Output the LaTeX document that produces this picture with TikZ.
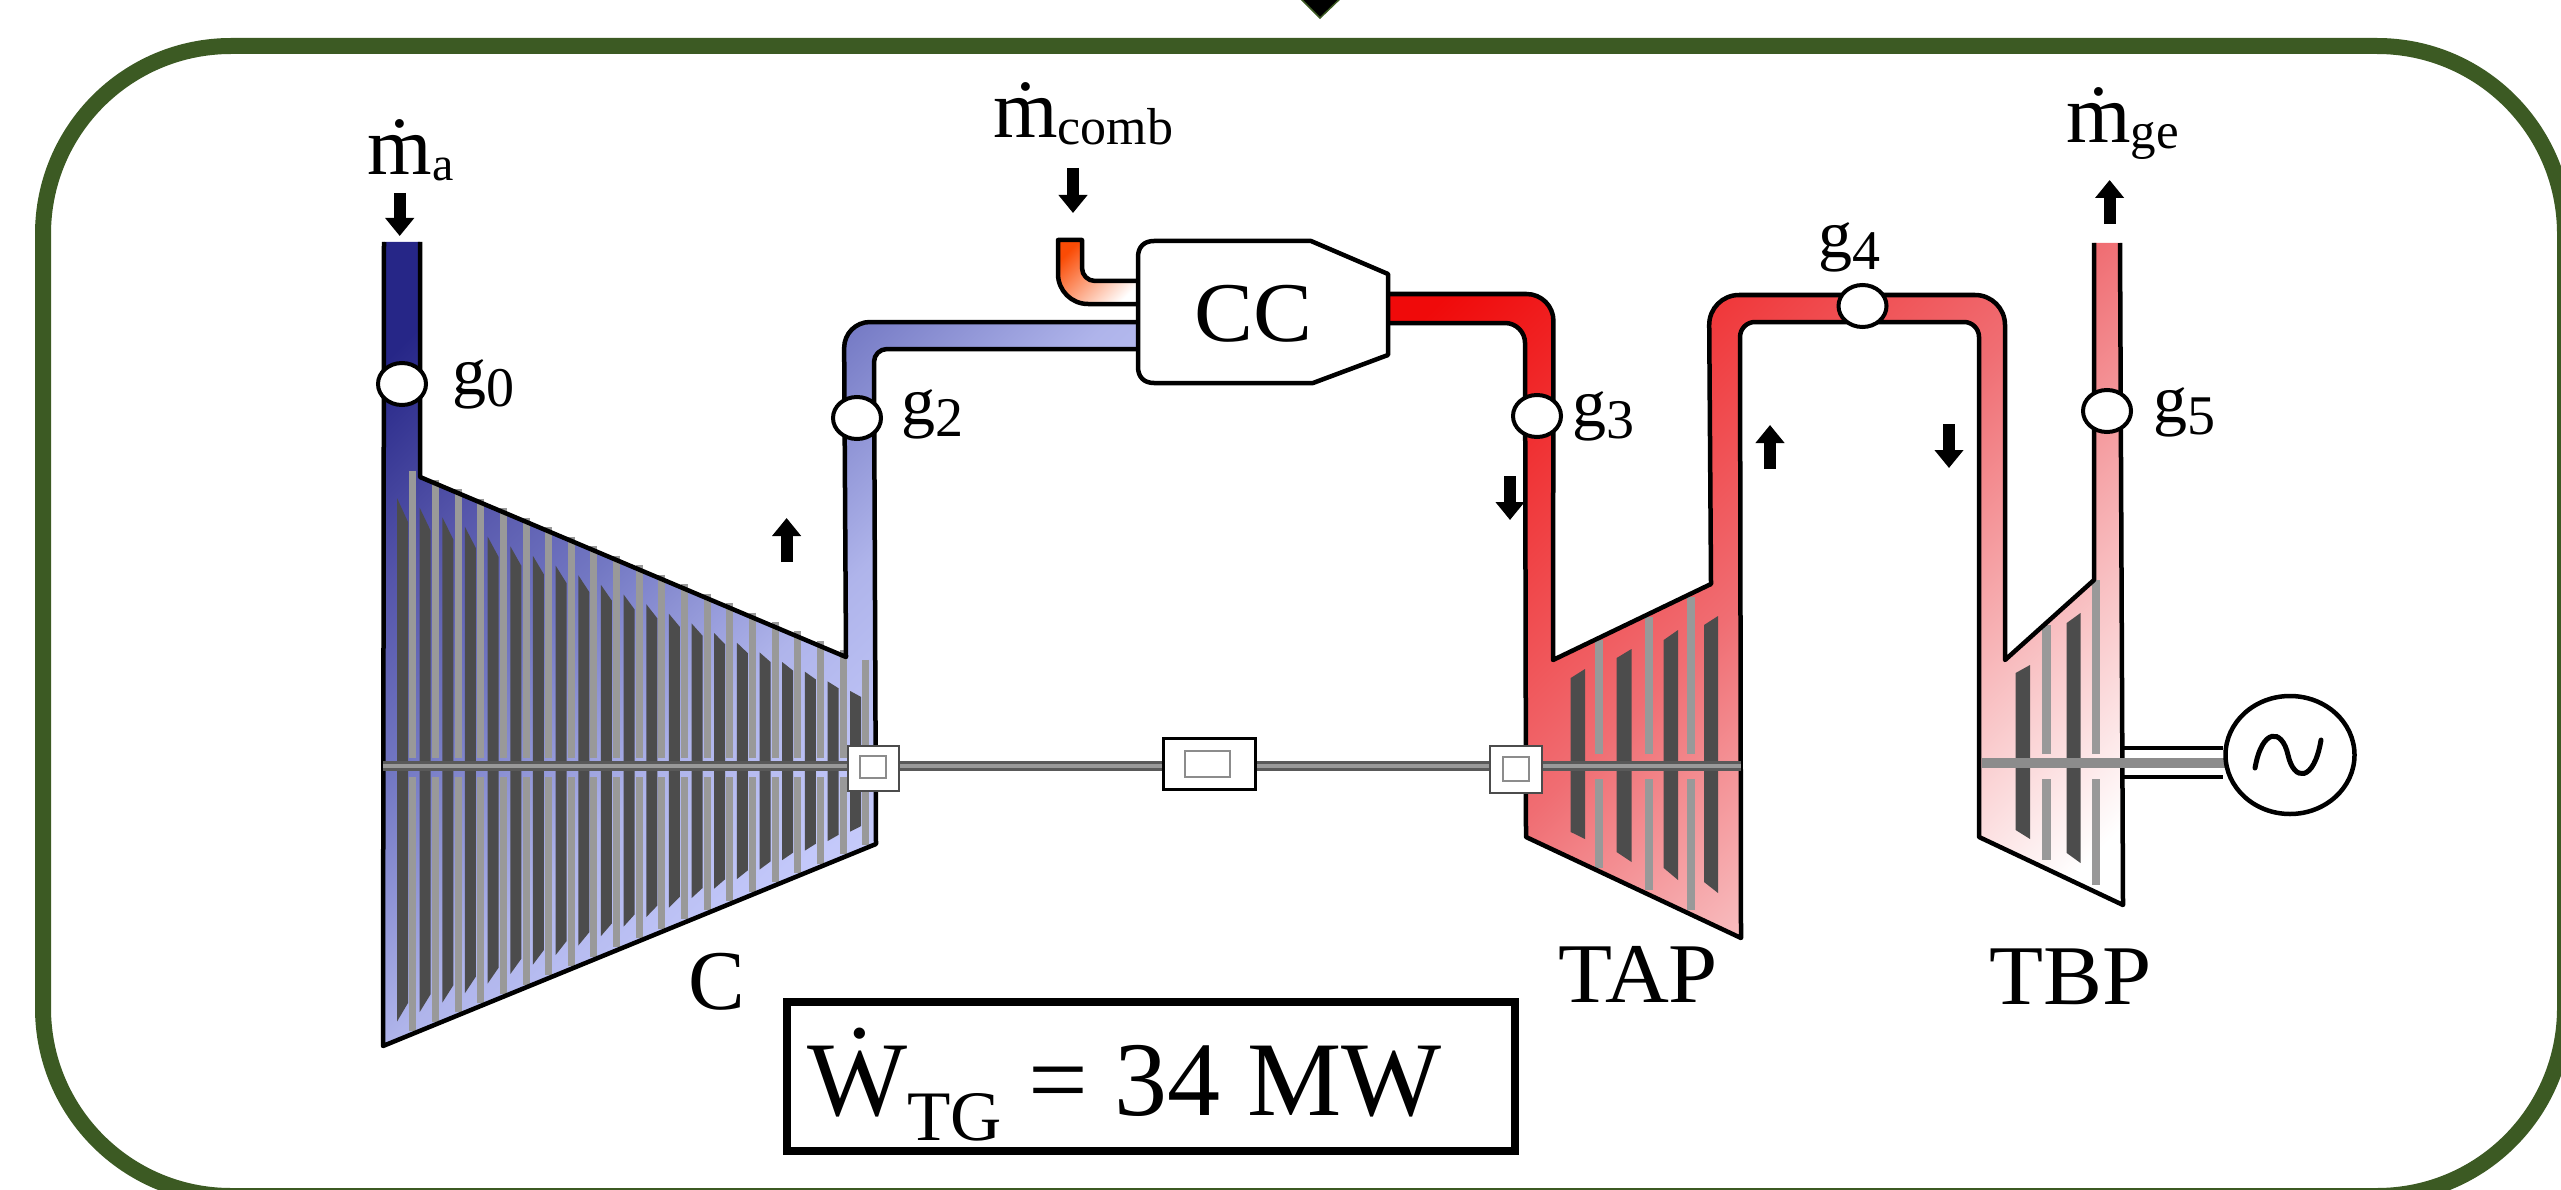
\documentclass[tikz,border=0pt]{standalone}
\usepackage{fontspec}
\setmainfont{Liberation Serif}
\usetikzlibrary{arrows.meta,shapes.geometric}
\definecolor{framegreen}{RGB}{60,90,35}
\definecolor{fuelA}{RGB}{250,75,5}
\pgfdeclareverticalshading{coldshade}{100bp}{
  rgb(0bp)=(0.84,0.86,1);rgb(20bp)=(0.84,0.86,1);rgb(38bp)=(0.765,0.785,0.98);
  rgb(48.8bp)=(0.686,0.706,0.92);rgb(60.8bp)=(0.45,0.47,0.765);rgb(69.8bp)=(0.333,0.333,0.667);
  rgb(80bp)=(0.15,0.15,0.53);rgb(100bp)=(0.15,0.15,0.53)}
\pgfdeclareverticalshading{hotshade}{100bp}{
  rgb(0bp)=(1,1,1);rgb(20bp)=(1,1,1);rgb(50bp)=(0.94,0.43,0.45);
  rgb(80bp)=(0.94,0.04,0.04);rgb(100bp)=(0.94,0.04,0.04)}
\newcommand{\lowtxt}[3]{\raisebox{-#1pt}{\fontsize{#2pt}{#2pt}\selectfont #3}}
\newcommand{\widetxt}[1]{\scalebox{1.04}[1]{#1}}
\tikzset{
  coldfill/.style={shade,shading=coldshade,shading angle=45},
  hotfill/.style={shade,shading=hotshade,shading angle=45},
  fuelfill/.style={shade,top color=fuelA,bottom color=white,shading angle=45},
  pipeline/.style={draw=black,line width=4.5pt,line join=round},
  lightblade/.style={draw=black!40,line width=7pt},
  darkblade/.style={fill=black!70},
  shaftline/.style={draw=black!65,double=black!40,line width=3pt,double distance=3.5pt},
  coupling/.style={rectangle,draw=black!70,fill=white,line width=2.5pt,inner sep=0pt},
  couplingin/.style={rectangle,draw=black!45,fill=white,line width=2.5pt,inner sep=0pt},
  gauge/.style={ellipse,draw=black,fill=white,line width=4pt,inner sep=0pt,minimum width=48pt,minimum height=42pt},
  flowarrow/.style={draw=black,line width=12pt,-{Triangle[length=18pt,width=28pt]}},
  flowlbl/.style={anchor=base west,inner sep=0pt,font=\fontsize{83pt}{83pt}\selectfont},
  gaugelbl/.style={anchor=base west,inner sep=0pt,font=\fontsize{68pt}{68pt}\selectfont},
  partlbl/.style={inner sep=0pt,font=\fontsize{85pt}{85pt}\selectfont}
}
\begin{document}
\begin{tikzpicture}[x=1pt,y=-1pt]
  \useasboundingbox (0,0) rectangle (2561,1190);
  \clip (0,0) rectangle (2561,1190);
  \draw[framegreen,line width=16pt,rounded corners=188pt] (43,46) rectangle (2565,1196);
  \fill[black,draw=framegreen,line width=1.5pt] (1296,-6) -- (1320,18) -- (1345,-6) -- cycle;

  \path[coldfill] (384,242) -- (383,1046) -- (876,844) -- (874,362)
    [rounded corners=13pt] -- (874,349) [sharp corners] -- (1138,349) -- (1138,322)
    [rounded corners=26pt] -- (844,322) [sharp corners] -- (846,657) -- (420,477) -- (420,242) -- cycle;
  \foreach \i in {0,...,20}{
    \pgfmathsetmacro\xl{412.7+22.66*\i}
    \pgfmathsetmacro\tl{470.5+9.47*\i}
    \pgfmathsetmacro\bl{1031-9.3*\i}
    \pgfmathsetmacro\xd{402.5+22.66*\i}
    \draw[lightblade] (\xl,\tl) -- (\xl,758);
    \draw[lightblade] (\xl,777) -- (\xl,\bl);
    \fill[darkblade] (\xd-5.5,498+9.65*\i) -- (\xd+5.5,522+8.75*\i) -- (\xd+5.5,1003-8.85*\i) -- (\xd-5.5,1021.6-9.5*\i) -- cycle;
  }
  \draw[pipeline] (384,242) -- (383,1046) -- (876,844) -- (874,362)
    [rounded corners=13pt] -- (874,349) [sharp corners] -- (1138,349);
  \draw[pipeline] (1138,322)
    [rounded corners=26pt] -- (844,322) [sharp corners] -- (846,657) -- (420,477) -- (420,242);

  \path[fuelfill] (1058,240) [rounded corners=30pt] -- (1058,304) [sharp corners] -- (1140,304) -- (1140,281)
    [rounded corners=13pt] -- (1082,281) [sharp corners] -- (1082,240) -- cycle;
  \draw[pipeline] (1140,304) [rounded corners=30pt] -- (1058,304) [sharp corners] -- (1058,240) -- (1082,240)
    [rounded corners=13pt] -- (1082,281) [sharp corners] -- (1140,281);

  \path[hotfill] (1388,294) [rounded corners=27pt] -- (1553.5,294) [sharp corners] -- (1553,660) -- (1711,584)
    [rounded corners=30pt] -- (1709,295) -- (2005,295) [sharp corners] -- (2005,660) -- (2094,580) -- (2094,243)
    -- (2120,243) -- (2123,905) -- (1979,837) [rounded corners=15pt] -- (1979,322) -- (1740,322) [sharp corners]
    -- (1741,938) -- (1526,837) [rounded corners=20pt] -- (1525,323) [sharp corners] -- (1388,323) -- cycle;
  \fill[darkblade] (1570.7,678) -- (1585,669) -- (1585,839) -- (1570.7,832) -- cycle;
  \fill[darkblade] (1616.6,658) -- (1631.5,649) -- (1631.5,862) -- (1616.6,852) -- cycle;
  \fill[darkblade] (1663.7,640) -- (1678,630) -- (1678,880) -- (1663.7,868) -- cycle;
  \fill[darkblade] (1704,625) -- (1718,616) -- (1718,893) -- (1704,882) -- cycle;
  \fill[darkblade] (2015.6,673) -- (2030,665) -- (2030,839) -- (2015.6,830) -- cycle;
  \fill[darkblade] (2066.7,623) -- (2080.5,613) -- (2080.5,863) -- (2066.7,853) -- cycle;
  \foreach \xb/\tb/\bb in {1599/640/868,1649/617/890,1691/597/910,2046.6/625/860,2096/580/885}{
    \draw[lightblade,line width=8.5pt] (\xb,\tb) -- (\xb,754);
    \draw[lightblade,line width=8.5pt] (\xb,779) -- (\xb,\bb);
  }
  \draw[pipeline] (1388,294) [rounded corners=27pt] -- (1553.5,294) [sharp corners] -- (1553,660) -- (1711,584)
    [rounded corners=30pt] -- (1709,295) -- (2005,295) [sharp corners] -- (2005,660) -- (2094,580) -- (2094,243);
  \draw[pipeline] (2120,243) -- (2123,905) -- (1979,837) [rounded corners=15pt] -- (1979,322) -- (1740,322) [sharp corners]
    -- (1741,938) -- (1526,837) [rounded corners=20pt] -- (1525,323) [sharp corners] -- (1388,323);

  \draw[pipeline,fill=white] (1154,241) -- (1311,241) -- (1388,274) -- (1388,355) -- (1313,383) -- (1154,383)
    .. controls (1144,383) and (1138,377) .. (1138,367) -- (1138,257) .. controls (1138,247) and (1144,241) .. (1154,241) -- cycle;
  \node[partlbl] (cc) at (1253.6,314) {\widetxt{CC}};

  \coordinate (shafta) at (383,766);
  \coordinate (shaftb) at (1741,766);
  \coordinate (shaftc) at (1982,763);
  \coordinate (shaftd) at (2240,763);
  \coordinate (roda) at (2123,748);
  \coordinate (rodb) at (2123,777);
  \draw[shaftline] (shafta) -- (shaftb);
  \draw[draw=black!45,line width=10pt] (shaftc) -- (shaftd);
  \node[ellipse,draw=black,fill=white,line width=4.5pt,inner sep=0pt,minimum width=129pt,minimum height=118pt] (gen) at (2290,755) {};
  \draw[line width=4.5pt] (roda) -- (roda -| gen.west);
  \draw[line width=4.5pt] (rodb) -- (rodb -| gen.west);
  \draw[line width=5pt,line cap=round] (2255,768) .. controls (2262,728) and (2282,728) .. (2288,755) .. controls (2294,782) and (2314,782) .. (2321,740);

  \node[coupling,minimum width=51pt,minimum height=45pt] (boxa) at (873.7,768.5) {};
  \node[couplingin,minimum width=26pt,minimum height=22pt] (boxain) at (873,767) {};
  \node[coupling,draw=black,line width=3pt,minimum width=92pt,minimum height=51pt] (boxm) at (1209,763.5) {};
  \node[couplingin,minimum width=45pt,minimum height=26pt] (boxmin) at (1207.5,764) {};
  \node[coupling,minimum width=52pt,minimum height=47pt] (boxb) at (1516,769.5) {};
  \node[couplingin,minimum width=26pt,minimum height=24pt] (boxbin) at (1516,769) {};

  \node[gauge] (g0) at (402,384) {};
  \node[gauge] (g2) at (857,418) {};
  \node[gauge] (g3) at (1537,416) {};
  \node[gauge] (g4) at (1862.5,306) {};
  \node[gauge] (g5) at (2107,411) {};
  \node[gaugelbl] (g0txt) at (452,394) {g\lowtxt{12}{56}{0}};
  \node[gaugelbl] (g2txt) at (901,424) {g\lowtxt{12}{56}{2}};
  \node[gaugelbl] (g3txt) at (1572,426) {g\lowtxt{12}{56}{3}};
  \node[gaugelbl] (g4txt) at (1818,258) {g\lowtxt{12}{56}{4}};
  \node[gaugelbl] (g5txt) at (2153,422) {g\lowtxt{12}{56}{5}};

  \coordinate (ara) at (399.7,193);
  \coordinate (arb) at (399.7,236);
  \draw[flowarrow] (ara) -- (arb);
  \coordinate (arc) at (786.6,562);
  \coordinate (ard) at (786.6,518);
  \draw[flowarrow] (arc) -- (ard);
  \coordinate (are) at (1073,168);
  \coordinate (arf) at (1073,213);
  \draw[flowarrow] (are) -- (arf);
  \coordinate (arg) at (1510,476);
  \coordinate (arh) at (1510,520);
  \draw[flowarrow] (arg) -- (arh);
  \coordinate (ari) at (1770,469);
  \coordinate (arj) at (1770,425);
  \draw[flowarrow] (ari) -- (arj);
  \coordinate (ark) at (1949,424);
  \coordinate (arl) at (1949,468);
  \draw[flowarrow] (ark) -- (arl);
  \coordinate (arm) at (2109.6,224);
  \coordinate (arn) at (2109.6,180);
  \draw[flowarrow] (arm) -- (arn);

  \node[flowlbl] (ma) at (367.5,175) {ṁ\lowtxt{6}{48}{a}};
  \node[flowlbl] (mcomb) at (993,138) {ṁ\lowtxt{7}{52}{comb}};
  \node[flowlbl] (mge) at (2066,143) {ṁ\lowtxt{6}{51}{ge}};
  \node[partlbl] (c) at (717,982) {C};
  \node[partlbl] (tap) at (1638,974) {\widetxt{TAP}};
  \node[partlbl] (tbp) at (2071,977) {\widetxt{TBP}};

  \node[rectangle,draw=black,line width=8pt,inner sep=0pt,minimum width=728pt,minimum height=149pt] (wbox) at (1151,1076.5) {};
  \node[anchor=base west,inner sep=0pt,font=\fontsize{106pt}{106pt}\selectfont] (wtxt) at (807,1115.7) {Ẇ\lowtxt{25}{71}{TG} = 34 MW};
\end{tikzpicture}
\end{document}
